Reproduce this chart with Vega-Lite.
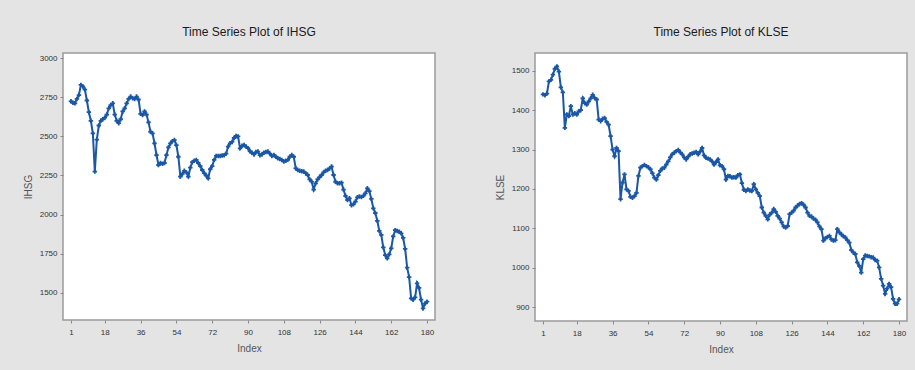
{
  "$schema": "https://vega.github.io/schema/vega-lite/v6.json",
  "background": "#e4e4e4",
  "padding": {"left": 22, "top": 25, "right": 7, "bottom": 15},
  "datasets": {
    "series": [
      {"Index":1,"IHSG":2725,"KLSE":1440},{"Index":2,"IHSG":2715,"KLSE":1438},{"Index":3,"IHSG":2712,"KLSE":1442},{"Index":4,"IHSG":2740,"KLSE":1473},{"Index":5,"IHSG":2765,"KLSE":1477},
      {"Index":6,"IHSG":2830,"KLSE":1490},{"Index":7,"IHSG":2820,"KLSE":1505},{"Index":8,"IHSG":2800,"KLSE":1511},{"Index":9,"IHSG":2730,"KLSE":1498},{"Index":10,"IHSG":2655,"KLSE":1458},
      {"Index":11,"IHSG":2600,"KLSE":1445},{"Index":12,"IHSG":2520,"KLSE":1355},{"Index":13,"IHSG":2275,"KLSE":1389},{"Index":14,"IHSG":2480,"KLSE":1385},{"Index":15,"IHSG":2570,"KLSE":1410},
      {"Index":16,"IHSG":2600,"KLSE":1389},{"Index":17,"IHSG":2610,"KLSE":1392},{"Index":18,"IHSG":2620,"KLSE":1389},{"Index":19,"IHSG":2640,"KLSE":1397},{"Index":20,"IHSG":2680,"KLSE":1400},
      {"Index":21,"IHSG":2700,"KLSE":1430},{"Index":22,"IHSG":2712,"KLSE":1418},{"Index":23,"IHSG":2640,"KLSE":1414},{"Index":24,"IHSG":2600,"KLSE":1422},{"Index":25,"IHSG":2585,"KLSE":1430},
      {"Index":26,"IHSG":2610,"KLSE":1439},{"Index":27,"IHSG":2660,"KLSE":1431},{"Index":28,"IHSG":2680,"KLSE":1427},{"Index":29,"IHSG":2712,"KLSE":1376},{"Index":30,"IHSG":2740,"KLSE":1372},
      {"Index":31,"IHSG":2755,"KLSE":1378},{"Index":32,"IHSG":2745,"KLSE":1380},{"Index":33,"IHSG":2740,"KLSE":1370},{"Index":34,"IHSG":2755,"KLSE":1363},{"Index":35,"IHSG":2735,"KLSE":1334},
      {"Index":36,"IHSG":2645,"KLSE":1300},{"Index":37,"IHSG":2637,"KLSE":1283},{"Index":38,"IHSG":2660,"KLSE":1304},{"Index":39,"IHSG":2640,"KLSE":1296},{"Index":40,"IHSG":2590,"KLSE":1174},
      {"Index":41,"IHSG":2530,"KLSE":1216},{"Index":42,"IHSG":2520,"KLSE":1237},{"Index":43,"IHSG":2456,"KLSE":1199},{"Index":44,"IHSG":2381,"KLSE":1195},{"Index":45,"IHSG":2317,"KLSE":1180},
      {"Index":46,"IHSG":2330,"KLSE":1178},{"Index":47,"IHSG":2325,"KLSE":1182},{"Index":48,"IHSG":2330,"KLSE":1190},{"Index":49,"IHSG":2380,"KLSE":1233},{"Index":50,"IHSG":2430,"KLSE":1254},
      {"Index":51,"IHSG":2455,"KLSE":1258},{"Index":52,"IHSG":2470,"KLSE":1261},{"Index":53,"IHSG":2477,"KLSE":1258},{"Index":54,"IHSG":2445,"KLSE":1255},{"Index":55,"IHSG":2370,"KLSE":1250},
      {"Index":56,"IHSG":2243,"KLSE":1240},{"Index":57,"IHSG":2260,"KLSE":1229},{"Index":58,"IHSG":2280,"KLSE":1224},{"Index":59,"IHSG":2270,"KLSE":1235},{"Index":60,"IHSG":2243,"KLSE":1246},
      {"Index":61,"IHSG":2300,"KLSE":1252},{"Index":62,"IHSG":2335,"KLSE":1254},{"Index":63,"IHSG":2345,"KLSE":1262},{"Index":64,"IHSG":2350,"KLSE":1270},{"Index":65,"IHSG":2330,"KLSE":1280},
      {"Index":66,"IHSG":2310,"KLSE":1288},{"Index":67,"IHSG":2285,"KLSE":1292},{"Index":68,"IHSG":2265,"KLSE":1296},{"Index":69,"IHSG":2250,"KLSE":1299},{"Index":70,"IHSG":2232,"KLSE":1293},
      {"Index":71,"IHSG":2290,"KLSE":1288},{"Index":72,"IHSG":2310,"KLSE":1280},{"Index":73,"IHSG":2350,"KLSE":1275},{"Index":74,"IHSG":2375,"KLSE":1282},{"Index":75,"IHSG":2375,"KLSE":1288},
      {"Index":76,"IHSG":2375,"KLSE":1290},{"Index":77,"IHSG":2378,"KLSE":1292},{"Index":78,"IHSG":2380,"KLSE":1294},{"Index":79,"IHSG":2390,"KLSE":1288},{"Index":80,"IHSG":2435,"KLSE":1295},
      {"Index":81,"IHSG":2456,"KLSE":1304},{"Index":82,"IHSG":2465,"KLSE":1285},{"Index":83,"IHSG":2490,"KLSE":1279},{"Index":84,"IHSG":2503,"KLSE":1277},{"Index":85,"IHSG":2500,"KLSE":1275},
      {"Index":86,"IHSG":2424,"KLSE":1270},{"Index":87,"IHSG":2440,"KLSE":1262},{"Index":88,"IHSG":2445,"KLSE":1268},{"Index":89,"IHSG":2435,"KLSE":1275},{"Index":90,"IHSG":2425,"KLSE":1260},
      {"Index":91,"IHSG":2405,"KLSE":1258},{"Index":92,"IHSG":2395,"KLSE":1250},{"Index":93,"IHSG":2385,"KLSE":1224},{"Index":94,"IHSG":2400,"KLSE":1233},{"Index":95,"IHSG":2403,"KLSE":1232},
      {"Index":96,"IHSG":2380,"KLSE":1229},{"Index":97,"IHSG":2385,"KLSE":1230},{"Index":98,"IHSG":2396,"KLSE":1229},{"Index":99,"IHSG":2400,"KLSE":1235},{"Index":100,"IHSG":2403,"KLSE":1237},
      {"Index":101,"IHSG":2390,"KLSE":1215},{"Index":102,"IHSG":2375,"KLSE":1198},{"Index":103,"IHSG":2381,"KLSE":1195},{"Index":104,"IHSG":2370,"KLSE":1199},{"Index":105,"IHSG":2360,"KLSE":1196},
      {"Index":106,"IHSG":2355,"KLSE":1195},{"Index":107,"IHSG":2350,"KLSE":1212},{"Index":108,"IHSG":2339,"KLSE":1199},{"Index":109,"IHSG":2345,"KLSE":1190},{"Index":110,"IHSG":2350,"KLSE":1182},
      {"Index":111,"IHSG":2370,"KLSE":1153},{"Index":112,"IHSG":2381,"KLSE":1140},{"Index":113,"IHSG":2370,"KLSE":1132},{"Index":114,"IHSG":2296,"KLSE":1123},{"Index":115,"IHSG":2285,"KLSE":1135},
      {"Index":116,"IHSG":2280,"KLSE":1140},{"Index":117,"IHSG":2277,"KLSE":1149},{"Index":118,"IHSG":2275,"KLSE":1142},{"Index":119,"IHSG":2265,"KLSE":1132},{"Index":120,"IHSG":2253,"KLSE":1125},
      {"Index":121,"IHSG":2225,"KLSE":1115},{"Index":122,"IHSG":2211,"KLSE":1105},{"Index":123,"IHSG":2160,"KLSE":1102},{"Index":124,"IHSG":2200,"KLSE":1106},{"Index":125,"IHSG":2225,"KLSE":1136},
      {"Index":126,"IHSG":2240,"KLSE":1140},{"Index":127,"IHSG":2253,"KLSE":1145},{"Index":128,"IHSG":2270,"KLSE":1153},{"Index":129,"IHSG":2281,"KLSE":1158},{"Index":130,"IHSG":2285,"KLSE":1162},
      {"Index":131,"IHSG":2295,"KLSE":1164},{"Index":132,"IHSG":2307,"KLSE":1160},{"Index":133,"IHSG":2253,"KLSE":1153},{"Index":134,"IHSG":2210,"KLSE":1140},{"Index":135,"IHSG":2200,"KLSE":1132},
      {"Index":136,"IHSG":2200,"KLSE":1130},{"Index":137,"IHSG":2204,"KLSE":1125},{"Index":138,"IHSG":2160,"KLSE":1122},{"Index":139,"IHSG":2120,"KLSE":1115},{"Index":140,"IHSG":2093,"KLSE":1105},
      {"Index":141,"IHSG":2104,"KLSE":1098},{"Index":142,"IHSG":2060,"KLSE":1069},{"Index":143,"IHSG":2065,"KLSE":1075},{"Index":144,"IHSG":2083,"KLSE":1078},{"Index":145,"IHSG":2110,"KLSE":1081},
      {"Index":146,"IHSG":2115,"KLSE":1072},{"Index":147,"IHSG":2112,"KLSE":1069},{"Index":148,"IHSG":2120,"KLSE":1070},{"Index":149,"IHSG":2136,"KLSE":1098},{"Index":150,"IHSG":2168,"KLSE":1090},
      {"Index":151,"IHSG":2150,"KLSE":1085},{"Index":152,"IHSG":2100,"KLSE":1080},{"Index":153,"IHSG":2040,"KLSE":1077},{"Index":154,"IHSG":2010,"KLSE":1070},{"Index":155,"IHSG":1960,"KLSE":1064},
      {"Index":156,"IHSG":1895,"KLSE":1045},{"Index":157,"IHSG":1870,"KLSE":1039},{"Index":158,"IHSG":1790,"KLSE":1035},{"Index":159,"IHSG":1740,"KLSE":1014},{"Index":160,"IHSG":1720,"KLSE":1005},
      {"Index":161,"IHSG":1745,"KLSE":988},{"Index":162,"IHSG":1784,"KLSE":1022},{"Index":163,"IHSG":1860,"KLSE":1031},{"Index":164,"IHSG":1900,"KLSE":1030},{"Index":165,"IHSG":1895,"KLSE":1029},
      {"Index":166,"IHSG":1890,"KLSE":1027},{"Index":167,"IHSG":1880,"KLSE":1026},{"Index":168,"IHSG":1850,"KLSE":1020},{"Index":169,"IHSG":1780,"KLSE":1018},{"Index":170,"IHSG":1660,"KLSE":1001},
      {"Index":171,"IHSG":1600,"KLSE":972},{"Index":172,"IHSG":1464,"KLSE":955},{"Index":173,"IHSG":1455,"KLSE":934},{"Index":174,"IHSG":1470,"KLSE":947},{"Index":175,"IHSG":1560,"KLSE":959},
      {"Index":176,"IHSG":1530,"KLSE":951},{"Index":177,"IHSG":1455,"KLSE":921},{"Index":178,"IHSG":1400,"KLSE":909},{"Index":179,"IHSG":1430,"KLSE":909},{"Index":180,"IHSG":1442,"KLSE":920}
    ]
  },
  "data": {"name": "series"},
  "config": {
    "view": {"stroke": "#9a9a9a", "strokeWidth": 1.5, "fill": "white"},
    "font": "Liberation Sans",
    "axis": {"grid": false, "domain": false, "tickSize": 3, "tickColor": "#888888", "labelFontSize": 8, "labelColor": "#333333", "labelPadding": 3, "titleFontSize": 10, "titleFontWeight": "normal", "titleColor": "#555555", "titlePadding": 6},
    "axisX": {"labelPadding": 5, "titlePadding": 7},
    "title": {"fontSize": 12, "fontWeight": "normal", "color": "#1a1a1a", "offset": 14}
  },
  "spacing": 58,
  "hconcat": [
    {
      "width": 372, "height": 267,
      "title": "Time Series Plot of IHSG",
      "encoding": {
        "x": {"field": "Index", "type": "quantitative", "scale": {"domain": [-3, 184], "nice": false, "zero": false}, "axis": {"values": [1, 18, 36, 54, 72, 90, 108, 126, 144, 162, 180], "title": "Index"}},
        "y": {"field": "IHSG", "type": "quantitative", "scale": {"domain": [1325, 3034], "nice": false, "zero": false}, "axis": {"values": [1500, 1750, 2000, 2250, 2500, 2750, 3000], "title": "IHSG", "format": "d"}}
      },
      "layer": [
        {"mark": {"type": "line", "color": "#1a57a6", "strokeWidth": 2}},
        {"mark": {"type": "point", "shape": "cross", "filled": true, "size": 20, "color": "#1a57a6", "opacity": 1}}
      ]
    },
    {
      "width": 372, "height": 268,
      "title": "Time Series Plot of KLSE",
      "encoding": {
        "x": {"field": "Index", "type": "quantitative", "scale": {"domain": [-3, 184], "nice": false, "zero": false}, "axis": {"values": [1, 18, 36, 54, 72, 90, 108, 126, 144, 162, 180], "title": "Index"}},
        "y": {"field": "KLSE", "type": "quantitative", "scale": {"domain": [865, 1545], "nice": false, "zero": false}, "axis": {"values": [900, 1000, 1100, 1200, 1300, 1400, 1500], "title": "KLSE", "format": "d"}}
      },
      "layer": [
        {"mark": {"type": "line", "color": "#1a57a6", "strokeWidth": 2}},
        {"mark": {"type": "point", "shape": "cross", "filled": true, "size": 20, "color": "#1a57a6", "opacity": 1}}
      ]
    }
  ]
}
